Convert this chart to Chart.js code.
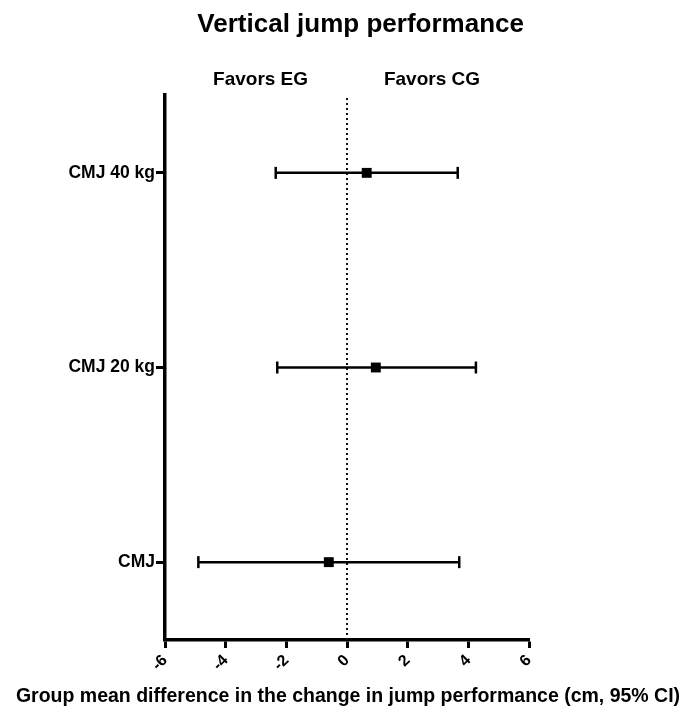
<!DOCTYPE html>
<html>
<head>
<meta charset="utf-8">
<script src="https://cdn.jsdelivr.net/npm/chart.js@4.4.1/dist/chart.umd.min.js"></script>
<style>
  html, body { margin: 0; padding: 0; background: #fff; }
  #wrap { width: 682px; height: 708px; }
</style>
</head>
<body>
<div id="wrap"><canvas id="c" width="682" height="708"></canvas></div>
<script>
// ---- data ----
const categories = ['CMJ', 'CMJ 20 kg', 'CMJ 40 kg'];
const meanDiff   = [-0.6, 0.95, 0.65];
const ciLow      = [-4.9, -2.3, -2.35];
const ciHigh     = [3.7, 4.25, 3.65];
const xTicks     = [-6, -4, -2, 0, 2, 4, 6];
const sideLabels = ['Favors EG', 'Favors CG'];
const sideLabelValues = [-2.85, 2.8];
const chartTitle = 'Vertical jump performance';
const xTitle = 'Group mean difference in the change in jump performance (cm, 95% CI)';

const yMin = -0.4, yMax = 2.4;
const FONT = "'Liberation Sans', Arial, Helvetica, sans-serif";

const datasets = [];
// mean points
datasets.push({
  type: 'scatter',
  data: categories.map((c, i) => ({ x: meanDiff[i], y: i })),
  pointStyle: 'rect',
  pointRadius: 7,
  backgroundColor: '#000',
  borderColor: '#000',
  borderWidth: 0,
  order: 0
});
// CI lines with end caps
categories.forEach((c, i) => {
  datasets.push({
    type: 'scatter',
    showLine: true,
    data: [{ x: ciLow[i], y: i }, { x: ciHigh[i], y: i }],
    borderColor: '#000',
    borderWidth: 2.5,
    pointStyle: 'line',
    rotation: 90,
    pointRadius: 6,
    pointBorderWidth: 2.5,
    pointBorderColor: '#000',
    order: 1
  });
});
// zero reference line
datasets.push({
  type: 'scatter',
  showLine: true,
  data: [{ x: 0, y: yMin }, { x: 0, y: yMax }],
  borderColor: '#111',
  borderWidth: 2,
  borderDash: [2, 3],
  pointRadius: 0,
  order: 2
});

const textPlugin = {
  id: 'texts',
  afterDraw(chart) {
    const { ctx, chartArea, scales } = chart;
    ctx.save();
    ctx.fillStyle = '#000';
    ctx.textAlign = 'center';
    ctx.textBaseline = 'alphabetic';
    // main title
    ctx.font = "bold 26px " + FONT;
    ctx.fillText(chartTitle, scales.x.getPixelForValue(0.45), 32);
    // side labels
    ctx.font = "bold 19px " + FONT;
    sideLabels.forEach((t, i) => {
      ctx.fillText(t, scales.x.getPixelForValue(sideLabelValues[i]), 85);
    });
    // x axis title
    ctx.font = "bold 19.5px " + FONT;
    ctx.fillText(xTitle, (chartArea.left + chartArea.right) / 2 + 1, 702);
    ctx.restore();
  }
};

new Chart(document.getElementById('c'), {
  type: 'scatter',
  data: { datasets },
  options: {
    responsive: false,
    animation: false,
    layout: { padding: { left: 0, right: 153, top: 95, bottom: 0 } },
    plugins: {
      legend: { display: false },
      tooltip: { enabled: false },
      title: { display: false }
    },
    scales: {
      x: {
        type: 'linear',
        min: -6, max: 6,
        afterFit: (s) => { s.height = 68; },
        afterBuildTicks: (s) => { s.ticks = xTicks.map(v => ({ value: v })); },
        border: { display: true, color: '#000', width: 3.5 },
        grid: { drawOnChartArea: false, drawTicks: true, tickLength: 8, tickWidth: 3, tickColor: '#000' },
        ticks: {
          color: '#000',
          font: { family: FONT, size: 16, weight: 'bold' },
          minRotation: 45, maxRotation: 45,
          padding: 3,
          autoSkip: false
        },
        title: { display: false }
      },
      y: {
        type: 'linear',
        min: yMin, max: yMax,
        afterFit: (s) => { s.width = 165; },
        afterBuildTicks: (s) => { s.ticks = categories.map((c, i) => ({ value: i })); },
        border: { display: true, color: '#000', width: 3.5 },
        grid: { drawOnChartArea: false, drawTicks: true, tickLength: 9, tickWidth: 3, tickColor: '#000' },
        ticks: {
          color: '#000',
          font: { family: FONT, size: 17.5, weight: 'bold' },
          padding: 1,
          callback: (v) => categories[v] !== undefined ? categories[v] : ''
        }
      }
    }
  },
  plugins: [textPlugin]
});
</script>
</body>
</html>
